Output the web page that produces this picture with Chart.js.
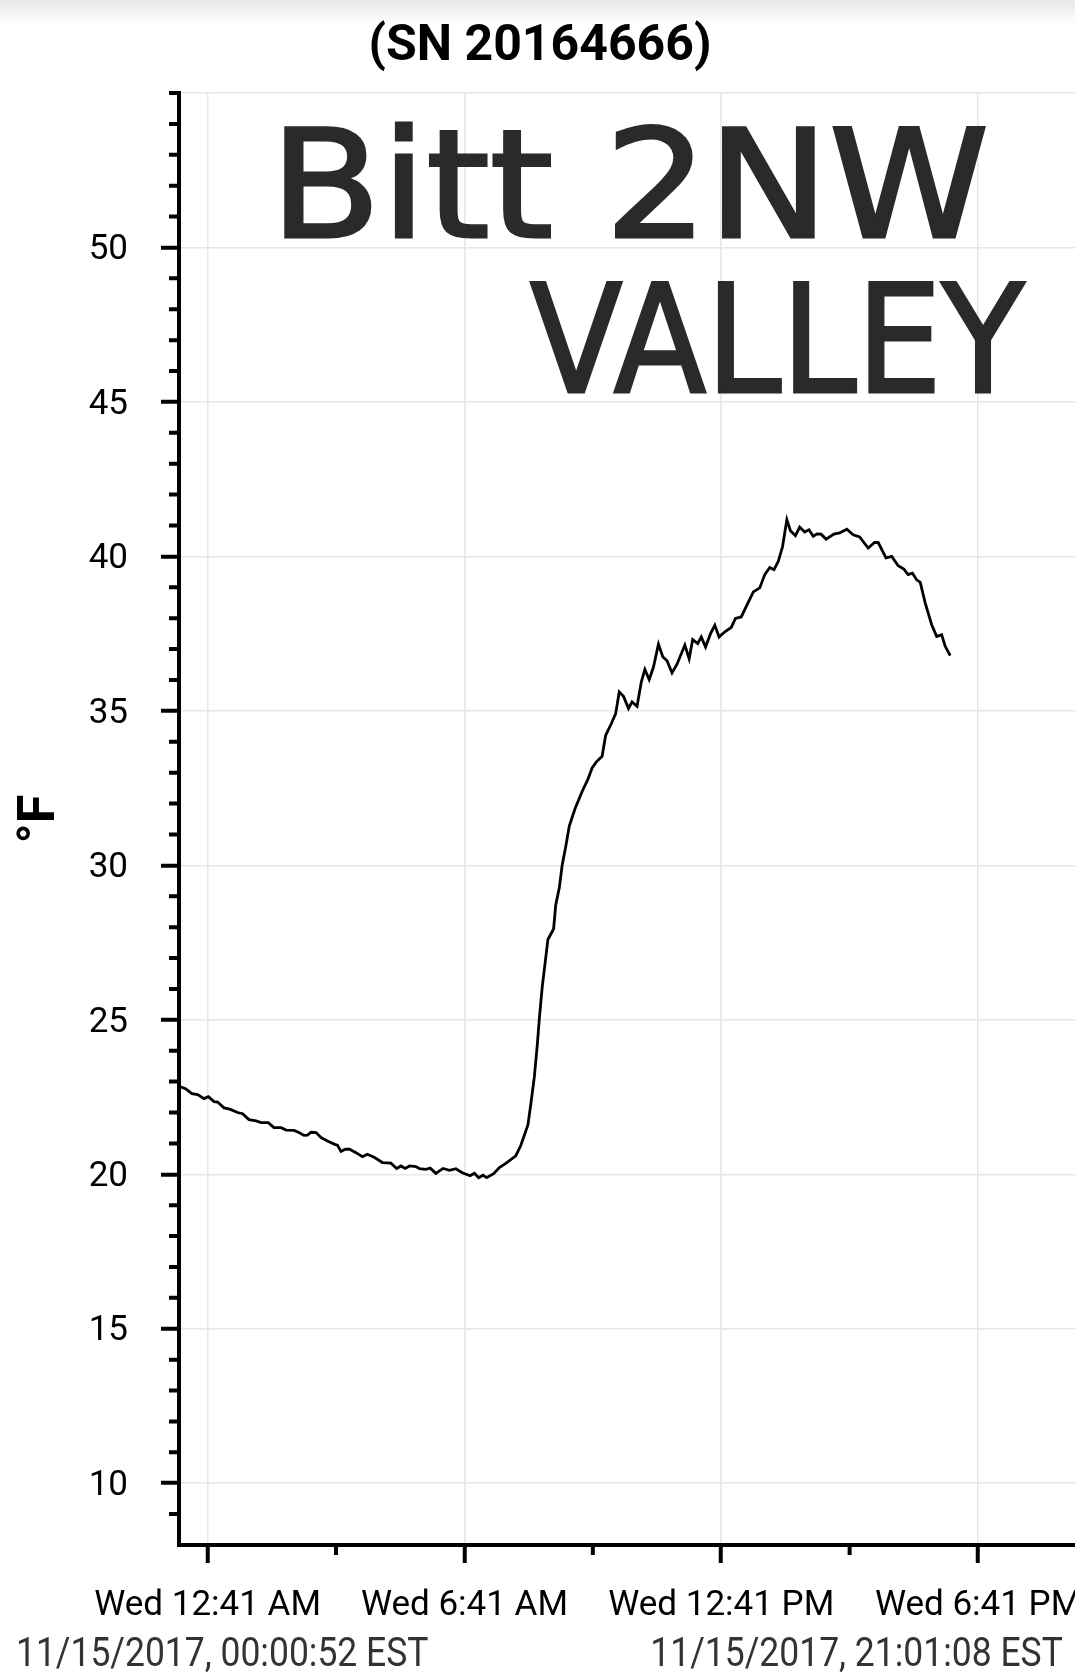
<!DOCTYPE html>
<html>
<head>
<meta charset="utf-8">
<title>SN 20164666</title>
<script src="https://cdn.jsdelivr.net/npm/chart.js@4.4.0/dist/chart.umd.min.js"></script>
<style>
  html, body { margin: 0; padding: 0; background: #fff; overflow: hidden; }
  body { width: 1075px; height: 1679px; position: relative; font-family: Roboto, sans-serif; }
  #shade { position: absolute; left: 0; top: 0; width: 1075px; height: 24px; background: linear-gradient(#e8e8e8, #fff); }
  #chart { position: absolute; left: 0; top: 0; }
  #title { position: absolute; left: 0; top: 13px; width: 1080px; text-align: center;
           font: bold 50px Roboto; line-height: 60px; color: #000; }
  .hand { position: absolute; font-family: "DejaVu Sans"; font-weight: normal; font-size: 150px;
          line-height: 150px; color: #2a2a2a; -webkit-text-stroke: 3px #2a2a2a;
          white-space: nowrap; transform-origin: left top; }
  .foot { position: absolute; top: 1628px; font: 41px Roboto; line-height: 48px; color: #333;
          white-space: nowrap; }
</style>
</head>
<body>
<div id="shade"></div>
<canvas id="chart" width="1200" height="1679"></canvas>
<div id="title">(SN 20164666)</div>
<div class="hand" style="left:270px; top:110px; transform:scaleX(1.08);">Bitt 2NW</div>
<div class="hand" style="left:530px; top:265px; transform:scaleX(0.9);">VALLEY</div>
<div class="foot" style="left:16px; transform:scaleX(0.865); transform-origin:left center;">11/15/2017, 00:00:52 EST</div>
<div class="foot" style="right:12px; transform:scaleX(0.865); transform-origin:right center;">11/15/2017, 21:01:08 EST</div>

<script>
// logger readings, 11/15/2017 (time of day, °F)
const times = [
  '0:01', '0:10', '0:19', '0:27', '0:36', '0:42', '0:50', '0:55', '1:04', '1:12',
  '1:23', '1:30', '1:39', '1:49', '1:56', '2:06', '2:14', '2:24', '2:31', '2:42',
  '2:49', '2:56', '3:01', '3:06', '3:13', '3:20', '3:29', '3:40', '3:43', '3:48',
  '3:54', '4:00', '4:09', '4:18', '4:25', '4:35', '4:46', '4:58', '5:06', '5:12',
  '5:18', '5:24', '5:33', '5:38', '5:47', '5:53', '6:01', '6:11', '6:20', '6:29',
  '6:38', '6:49', '6:55', '7:01', '7:07', '7:12', '7:22', '7:30', '7:39', '7:53',
  '8:00', '8:10', '8:14', '8:19', '8:23', '8:26', '8:30', '8:34', '8:38', '8:46',
  '8:49', '8:54', '8:58', '9:03', '9:08', '9:16', '9:26', '9:34', '9:40', '9:46',
  '9:54', '9:59', '10:07', '10:13', '10:18', '10:24', '10:31', '10:36', '10:43', '10:49',
  '10:54', '11:00', '11:06', '11:13', '11:19', '11:25', '11:32', '11:39', '11:50', '11:56',
  '12:01', '12:08', '12:13', '12:19', '12:26', '12:32', '12:38', '12:46', '12:55', '13:01',
  '13:09', '13:18', '13:26', '13:35', '13:42', '13:49', '13:55', '14:01', '14:07', '14:10',
  '14:13', '14:18', '14:25', '14:31', '14:38', '14:44', '14:50', '14:55', '15:01', '15:08',
  '15:19', '15:27', '15:37', '15:46', '15:55', '16:07', '16:16', '16:21', '16:32', '16:40',
  '16:49', '16:57', '17:03', '17:09', '17:15', '17:20', '17:27', '17:36', '17:43', '17:50',
  '17:55', '18:02'
];
const tempF = [
  22.85, 22.77, 22.61, 22.58, 22.45, 22.51, 22.35, 22.34, 22.15, 22.11,
  22.00, 21.96, 21.77, 21.73, 21.67, 21.67, 21.51, 21.51, 21.43, 21.42,
  21.35, 21.26, 21.27, 21.36, 21.35, 21.19, 21.08, 20.96, 20.94, 20.74,
  20.81, 20.81, 20.70, 20.57, 20.65, 20.54, 20.38, 20.36, 20.19, 20.27,
  20.19, 20.27, 20.25, 20.18, 20.16, 20.20, 20.03, 20.19, 20.13, 20.18,
  20.05, 19.95, 20.03, 19.89, 19.97, 19.89, 20.02, 20.22, 20.35, 20.60,
  20.93, 21.60, 22.26, 23.15, 24.15, 25.04, 26.05, 26.82, 27.60, 27.94,
  28.72, 29.27, 30.00, 30.60, 31.27, 31.83, 32.39, 32.78, 33.15, 33.35,
  33.53, 34.21, 34.59, 34.91, 35.61, 35.47, 35.08, 35.29, 35.15, 35.94,
  36.34, 36.01, 36.42, 37.16, 36.75, 36.62, 36.23, 36.51, 37.13, 36.69,
  37.31, 37.18, 37.39, 37.07, 37.50, 37.77, 37.39, 37.56, 37.70, 37.99,
  38.04, 38.47, 38.85, 38.98, 39.41, 39.64, 39.57, 39.84, 40.32, 40.76,
  41.19, 40.83, 40.67, 40.95, 40.79, 40.86, 40.65, 40.73, 40.72, 40.56,
  40.72, 40.76, 40.88, 40.70, 40.63, 40.27, 40.45, 40.45, 39.95, 40.00,
  39.70, 39.59, 39.41, 39.46, 39.24, 39.16, 38.49, 37.79, 37.41, 37.46,
  37.09, 36.79
];

// axis range and ticks
const xStart = '0:00:52';
const xEnd = '21:01:08';
const xTickTimes = ['0:41', '3:41', '6:41', '9:41', '12:41', '15:41', '18:41'];
const xTickLabels = ['Wed 12:41 AM', '', 'Wed 6:41 AM', '', 'Wed 12:41 PM', '', 'Wed 6:41 PM'];
const yMin = 8;
const yMax = 55;
const yLabelled = [10, 15, 20, 25, 30, 35, 40, 45, 50];

function toHours(t) {
    const p = t.split(':').map(Number);
    return p[0] + (p[1] || 0) / 60 + (p[2] || 0) / 3600;
}

// short ticks between the labelled ones
const minorTicks = {
    id: 'minorTicks',
    afterDraw(chart) {
        const { ctx, scales: { x, y } } = chart;
        ctx.save();
        ctx.strokeStyle = '#000';
        ctx.lineWidth = 4;
        ctx.beginPath();
        x.ticks.forEach((t, i) => {
            if (xTickLabels[i]) return;
            const px = x.getPixelForValue(t.value);
            ctx.moveTo(px, x.top);
            ctx.lineTo(px, x.top + 10);
        });
        y.ticks.forEach(t => {
            if (yLabelled.includes(t.value) || t.value <= yMin) return;
            const py = y.getPixelForValue(t.value);
            ctx.moveTo(y.right - 10, py);
            ctx.lineTo(y.right, py);
        });
        ctx.stroke();
        ctx.restore();
    }
};

const points = times.map((t, i) => ({ x: toHours(t), y: tempF[i] }));

new Chart(document.getElementById('chart'), {
    type: 'line',
    data: {
        datasets: [{
            data: points,
            borderColor: '#000',
            borderWidth: 2.8,
            pointRadius: 0,
            tension: 0,
            fill: false
        }]
    },
    options: {
        responsive: false,
        animation: false,
        devicePixelRatio: 1,
        layout: { padding: { top: 93, right: 122, left: 0, bottom: 0 } },
        plugins: {
            legend: { display: false },
            tooltip: { enabled: false }
        },
        scales: {
            x: {
                type: 'linear',
                min: toHours(xStart),
                max: toHours(xEnd),
                afterBuildTicks: scale => {
                    scale.ticks = xTickTimes.map(t => ({ value: toHours(t) }));
                },
                afterFit: scale => { scale.height = 134; },
                border: { color: '#000', width: 4 },
                grid: {
                    color: c => xTickLabels[c.index] ? '#e6e6e6' : 'transparent',
                    lineWidth: 1.5,
                    tickLength: 18,
                    tickWidth: 4,
                    tickColor: c => xTickLabels[c.index] ? '#000' : 'transparent'
                },
                ticks: {
                    autoSkip: false,
                    maxRotation: 0,
                    padding: 22,
                    color: '#000',
                    font: { family: 'Roboto', size: 35 },
                    callback: (v, i) => xTickLabels[i]
                }
            },
            y: {
                min: yMin,
                max: yMax,
                afterFit: scale => { scale.width = 179; },
                border: { color: '#000', width: 4 },
                grid: {
                    color: c => (c.tick.value % 5 === 0 && c.tick.value >= 10) ? '#e6e6e6' : 'transparent',
                    lineWidth: 1.5,
                    tickLength: 18,
                    tickWidth: 4,
                    tickColor: c => yLabelled.includes(c.tick.value) ? '#000' : 'transparent'
                },
                ticks: {
                    stepSize: 1,
                    autoSkip: false,
                    padding: 33,
                    labelOffset: 3,
                    color: '#000',
                    font: { family: 'Roboto', size: 35 },
                    callback: v => yLabelled.includes(v) ? String(v) : ''
                },
                title: {
                    display: true,
                    text: '°F',
                    color: '#000',
                    font: { family: 'Roboto', weight: 'bold', size: 52 },
                    padding: { top: 10, bottom: 0 }
                }
            }
        }
    },
    plugins: [minorTicks]
});
</script>
</body>
</html>
